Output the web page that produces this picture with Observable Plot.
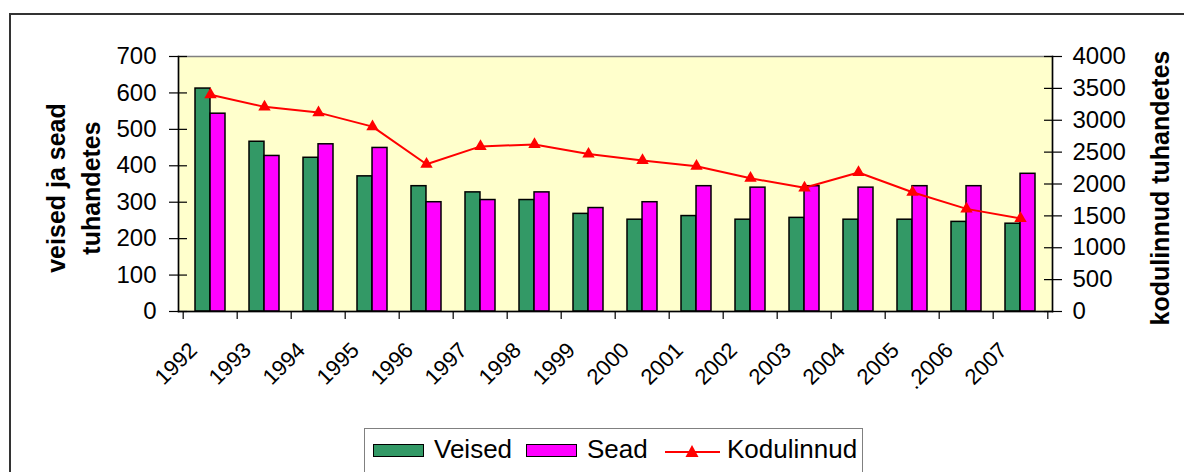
<!DOCTYPE html>
<html>
<head>
<meta charset="utf-8">
<script src="https://cdn.jsdelivr.net/npm/d3@7"></script>
<script src="https://cdn.jsdelivr.net/npm/@observablehq/plot@0.6"></script>
<style>
html, body { margin: 0; padding: 0; background: #fff; }
#wrap { position: relative; width: 1184px; height: 472px; overflow: hidden; font-family: "Liberation Sans", Arial, sans-serif; }
#chart { position: absolute; left: 0; top: 0; }
#bl { position: absolute; left: 9px; top: 13px; width: 2px; height: 459px; background: #333; }
#bt { position: absolute; left: 9px; top: 13px; width: 1175px; height: 2px; background: #333; }
#legend { position: absolute; left: 364px; top: 428px; width: 497px; height: 44px; border: 1px solid #808080; border-bottom: none; background: #fff; }
#legend .sw { position: absolute; top: 15px; width: 49px; height: 11px; border: 1.5px solid #000; }
#legend .lb { position: absolute; top: 5px; font-size: 26px; line-height: 30px; white-space: nowrap; color: #000; }
#legend svg { position: absolute; left: 300px; top: 14px; }
</style>
</head>
<body>
<div id="wrap">
  <div id="chart"></div>
  <div id="bl"></div>
  <div id="bt"></div>
  <div id="legend"></div>
</div>
<script>
// ---- data ----
const years = ["1992","1993","1994","1995","1996","1997","1998","1999","2000","2001","2002","2003","2004","2005",".2006","2007"];
const veised = [612, 466, 422, 371, 344, 327, 306, 268, 252, 262, 252, 257, 252, 252, 246, 241];
const sead   = [543, 427, 459, 449, 300, 306, 327, 284, 300, 344, 340, 344, 340, 344, 344, 378];
const kodulinnud = [3400, 3210, 3120, 2900, 2310, 2590, 2620, 2470, 2370, 2280, 2090, 1940, 2180, 1870, 1610, 1460];
const leftTicks  = [0, 100, 200, 300, 400, 500, 600, 700];
const rightTicks = [0, 500, 1000, 1500, 2000, 2500, 3000, 3500, 4000];
const seriesNames = ["Veised", "Sead", "Kodulinnud"];
const leftTitle = "veised ja sead\ntuhandetes";
const rightTitle = "kodulinnud tuhandetes";

// ---- layout / style ----
const W = 1184, H = 472;
const mL = 178, mR = 132, mT = 56, mB = 161;
const leftMax = 700, rightMax = 4000;
const k = leftMax / rightMax;             // right-axis units -> left-axis units
const step = (W - mL - mR) / years.length; // category width
const green = "#339966", magenta = "#ff00ff", red = "#ff0000";

const rows = years.map((year, i) => ({year, veised: veised[i], sead: sead[i], kodu: kodulinnud[i]}));
const bandPad = 0.45;
const halfBar = step * (1 - bandPad) / 2;

const chart = Plot.plot({
  width: W, height: H,
  marginLeft: mL, marginRight: mR, marginTop: mT, marginBottom: mB,
  style: {fontFamily: "'Liberation Sans', Arial, sans-serif", fontSize: "24px", color: "#000", background: "transparent", overflow: "visible"},
  x: {type: "band", domain: years, paddingInner: bandPad, paddingOuter: bandPad / 2, axis: null},
  y: {domain: [0, leftMax], axis: null},
  marks: [
    Plot.frame({fill: "#ffffcc", stroke: "#808080", strokeWidth: 1.5}),
    Plot.barY(rows, {x: "year", y: "veised", fill: green, stroke: "#000", strokeWidth: 1.5, insetRight: halfBar}),
    Plot.barY(rows, {x: "year", y: "sead", fill: magenta, stroke: "#000", strokeWidth: 1.5, insetLeft: halfBar}),
    Plot.line(rows, {x: "year", y: d => d.kodu * k, stroke: red, strokeWidth: 2}),
    Plot.dot(rows, {x: "year", y: d => d.kodu * k, symbol: "triangle", fill: red, stroke: "none", r: 4.6}),
    Plot.frame({anchor: "left", stroke: "#000", strokeWidth: 1.5}),
    Plot.frame({anchor: "right", stroke: "#000", strokeWidth: 1.5}),
    Plot.frame({anchor: "bottom", stroke: "#000", strokeWidth: 1.5}),
    // left axis (cross ticks)
    Plot.axisY(leftTicks, {anchor: "left", tickSize: 18, dx: 9, tickPadding: 13, fontSize: 24, stroke: "#000", strokeWidth: 1.2}),
    // right axis (cross ticks)
    Plot.axisY(rightTicks.map(d => d * k), {anchor: "right", tickSize: 18, dx: -9, tickPadding: 11, fontSize: 24, stroke: "#000", strokeWidth: 1.2,
      tickFormat: d => String(Math.round(d / k))}),
    // category boundary ticks
    Plot.axisX(years, {anchor: "bottom", tickSize: 8, dx: -step / 2, text: null, stroke: "#000", strokeWidth: 1.2}),
    Plot.axisX(years.slice(-1), {anchor: "bottom", tickSize: 8, dx: step / 2, text: null, stroke: "#000", strokeWidth: 1.2}),
    // rotated year labels
    Plot.text(years, {x: d => d, text: d => d, frameAnchor: "bottom", rotate: -45, textAnchor: "end", lineAnchor: "middle", dx: -17, dy: 35, fontSize: 22}),
    // axis titles
    Plot.text([leftTitle], {text: d => d, frameAnchor: "left", textAnchor: "middle", lineAnchor: "middle", rotate: -90, dx: -107, dy: 4, fontSize: 25, fontWeight: "bold", lineHeight: 1.4}),
    Plot.text([rightTitle], {text: d => d, frameAnchor: "right", textAnchor: "middle", lineAnchor: "middle", rotate: -90, dx: 108, dy: 4, fontSize: 25, fontWeight: "bold"})
  ]
});
document.getElementById("chart").appendChild(chart);

// ---- legend ----
const lg = d3.select("#legend");
lg.append("div").attr("class", "sw").style("left", "8px").style("background", green);
lg.append("div").attr("class", "lb").style("left", "69px").text(seriesNames[0]);
lg.append("div").attr("class", "sw").style("left", "161px").style("background", magenta);
lg.append("div").attr("class", "lb").style("left", "222px").text(seriesNames[1]);
const sym = lg.append("svg").attr("width", 58).attr("height", 16);
sym.append("line").attr("x1", 0).attr("x2", 55).attr("y1", 9).attr("y2", 9).attr("stroke", red).attr("stroke-width", 2);
sym.append("path").attr("d", "M27,2L33.5,14L20.5,14Z").attr("fill", red);
lg.append("div").attr("class", "lb").style("left", "362px").text(seriesNames[2]);
</script>
</body>
</html>
